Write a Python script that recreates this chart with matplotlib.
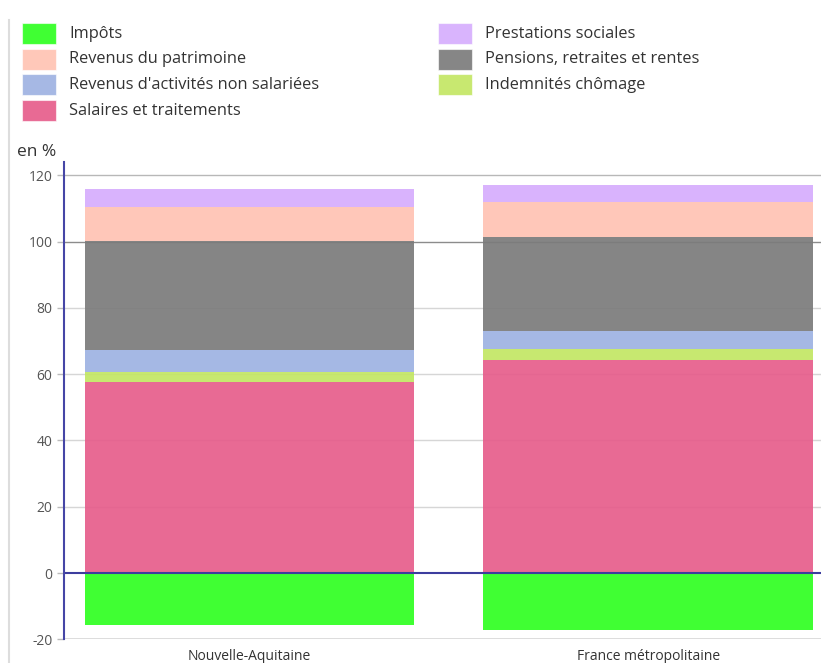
import matplotlib
matplotlib.use("Agg")
import matplotlib.pyplot as plt
from matplotlib.patches import Rectangle
from matplotlib.lines import Line2D
import matplotlib.colors as mcolors
import numpy as np

plt.rcParams['font.family'] = ['Open Sans', 'DejaVu Sans']

categories = ["Nouvelle-Aquitaine", "France métropolitaine"]

salaires = [57.7, 64.3]
chomage = [2.8, 3.2]
non_salariees = [6.7, 5.4]
pensions = [32.9, 28.4]
patrimoine = [10.3, 10.7]
prestations = [5.4, 5.0]
impots = [-15.7, -17.3]

yticks = [-20, 0, 20, 40, 60, 80, 100, 120]

# stacking order bottom -> top
stack = [
    ("Salaires et traitements", salaires, "#e86a94"),
    ("Indemnités chômage", chomage, "#c8e870"),
    ("Revenus d'activités non salariées", non_salariees, "#a6b8e4"),
    ("Pensions, retraites et rentes", pensions, "#868686"),
    ("Revenus du patrimoine", patrimoine, "#ffc8b9"),
    ("Prestations sociales", prestations, "#d9b4fd"),
]
neg = ("Impôts", impots, "#40ff33")

legend_cols = [
    ["Impôts", "Revenus du patrimoine", "Revenus d'activités non salariées", "Salaires et traitements"],
    ["Prestations sociales", "Pensions, retraites et rentes", "Indemnités chômage"],
]
colors = {name: c for name, _, c in stack}
colors[neg[0]] = neg[2]

ALPHA = 0.92
def base(c):
    r = np.array(mcolors.to_rgb(c))
    return tuple(np.clip((r - (1 - ALPHA)) / ALPHA, 0, 1))

W, H = 821, 663
fig = plt.figure(figsize=(W / 100, H / 100), dpi=100)
ax = fig.add_axes([64.3 / W, 23.7 / H, (W - 64.3) / W, (639.3 - 161.7) / H])

x = np.arange(len(categories))
bw = 0.826
bottom = np.zeros(len(categories))
for name, vals, c in stack:
    v = np.array(vals)
    ax.bar(x, v, bw, bottom=bottom, color=base(c), alpha=ALPHA, zorder=3, linewidth=0)
    bottom += v
ax.bar(x, neg[1], bw, color=base(neg[2]), alpha=ALPHA, zorder=3, linewidth=0)

ax.set_xlim(-0.465, 1.434)
ax.set_ylim(-20, 124.1)
ax.set_yticks(yticks)
ax.set_yticklabels([str(t) for t in yticks], fontsize=10, color="#555555")
ax.set_xticks(x)
ax.set_xticklabels(categories, fontsize=10, color="#333333")
ax.tick_params(axis='x', length=0, pad=7)
ax.tick_params(axis='y', length=5, width=1, color="#bbbbbb", pad=3.5)

for t in yticks:
    if t in (0, -20):
        continue
    col = "#8c8c8c" if t == 100 else ("#b8b8b8" if t == 120 else "#d6d6d6")
    ax.axhline(t, color=col, lw=1.0, zorder=1)

for s in ("top", "right", "left", "bottom"):
    ax.spines[s].set_visible(False)
ax.axhline(-20, color="#d9d9d9", lw=2, zorder=2)
ax.axhline(0, color="#3d3d9e", lw=1.5, zorder=4)
ax.axvline(-0.465, color="#4646a6", lw=1.5, zorder=4, clip_on=False)

fig.text(17 / W, 1 - 152 / H, "en %", fontsize=12.5, color="#333333", va="center", ha="left")

# left border line of frame
fig.add_artist(Line2D([8.5 / W, 8.5 / W], [1 - 20 / H, 0], color="#dddddd", lw=1.5))

# legend
col_x = [22, 438]
row_y0, row_dy = 33.5, 25.7
sw_w, sw_h = 34, 21
for ci, names in enumerate(legend_cols):
    for ri, name in enumerate(names):
        cy = row_y0 + ri * row_dy
        fig.add_artist(Rectangle((col_x[ci] / W, 1 - (cy + sw_h / 2) / H), sw_w / W, sw_h / H,
                                 transform=fig.transFigure, facecolor=colors[name],
                                 edgecolor=(1, 1, 1, 0.6), lw=0.8))
        fig.text((col_x[ci] + 47) / W, 1 - cy / H, name, fontsize=11.8, color="#333333",
                 va="center", ha="left")

fig.savefig("out.png", dpi=100)
